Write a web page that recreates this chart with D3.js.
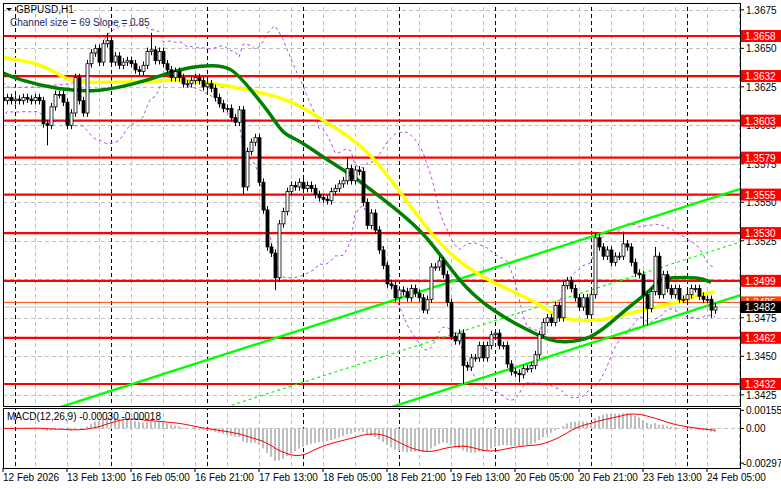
<!DOCTYPE html>
<html><head><meta charset="utf-8">
<script src="https://cdn.jsdelivr.net/npm/d3@7"></script>
<style>body{margin:0;background:#fff}svg{display:block}text{font-family:"Liberation Sans",Arial,sans-serif}</style>
</head><body><svg id="c" width="781" height="489"></svg>
<script>
// closes (price), bar 0 = 12 Feb 2026 21:00, H1
const closes=[3616,3618,3616,3617,3616,3618,3617,3616,3618,3616,3601,3600,3612,3620,3620,3615,3600,3608,3631,3616,
3608,3640,3647,3650,3641,3653,3655,3641,3645,3639,3641,3642,3640,3636,3635,3639,3648,3649,3642,3648,
3640,3636,3631,3635,3631,3627,3627,3629,3631,3629,3625,3627,3624,3618,3614,3611,3611,3605,3602,3610,
3560,3583,3589,3592,3563,3545,3521,3517,3501,3536,3544,3557,3561,3560,3563,3559,3561,3559,3555,3553,
3552,3551,3557,3559,3562,3564,3572,3564,3571,3570,3550,3535,3543,3532,3519,3509,3497,3496,3488,3493,
3492,3488,3494,3491,3488,3480,3487,3508,3508,3512,3503,3485,3463,3460,3465,3444,3443,3449,3449,3457,
3449,3457,3464,3465,3457,3457,3445,3440,3439,3438,3442,3442,3444,3451,3464,3472,3475,3472,3483,3475,
3496,3499,3494,3488,3482,3488,3477,3490,3527,3521,3515,3519,3511,3515,3515,3523,3521,3511,3504,3503,
3490,3481,3492,3515,3490,3503,3494,3490,3494,3487,3487,3490,3494,3494,3489,3487,3487,3480,3482].map(v=>1+v/10000);
const firstOpen=1.3618;
const extremes={11:{l:1.3587},26:{h:1.3660},37:{h:1.3660},60:{l:1.3555},68:{l:1.3493},86:{h:1.35795},105:{l:1.3478},
115:{l:1.3432},129:{l:1.3433},148:{h:1.3530},155:{h:1.3531},163:{h:1.3521},160:{l:1.3470},161:{l:1.3470},177:{l:1.3475}};
const yellowMA=[[0,3644],[9,3640.5],[14,3633],[17,3628],[24,3628],[34,3628],[42,3629.5],[47,3629.5],[62,3623],[72,3616.5],[79,3605],[87,3592],[92,3581],[99,3558],[107,3529],[114,3511],[122,3498],[134,3485],[138,3475],[147,3472],[154,3476],[162,3481.5],[169,3485],[174,3490],[178,3492]];
const greenMA=[[0,3634],[4,3629.5],[14,3623],[24,3621.6],[34,3627.5],[42,3634.6],[47,3638],[52,3639],[57,3638.5],[62,3623],[67,3607],[70,3594],[74,3590.5],[79,3581],[87,3568],[92,3558],[97,3548],[106,3529],[114,3498],[122,3480],[131,3467],[137,3460],[140,3459],[147,3461],[152,3472],[157,3483],[162,3493],[164,3500],[167,3501],[174,3501.6],[177,3498]];
const levels=[1.3658,1.3632,1.3603,1.3579,1.3555,1.3530,1.3499,1.3462,1.3432];
const askLine=1.3485, bidLine=1.3482;
const priceTicks=[1.3675,1.3650,1.3625,1.3600,1.3575,1.3550,1.3525,1.3500,1.3475,1.3450,1.3425];
const timeLabels=[[0,"12 Feb 2026"],[16,"13 Feb 13:00"],[32,"16 Feb 05:00"],[48,"16 Feb 21:00"],[64,"17 Feb 13:00"],[80,"18 Feb 05:00"],[96,"18 Feb 21:00"],[112,"19 Feb 13:00"],[128,"20 Feb 05:00"],[144,"20 Feb 21:00"],[160,"23 Feb 13:00"],[176,"24 Feb 05:00"]];
const daySeps=[3,27,51,75,99,123,147,171];
const channel={i:134.25,upper:1.3517,middle:1.34825,lower:1.3448,slope:0.0000834};
const macdTicks=[0.00155,0,-0.00297];

const svg=d3.select("#c");
const L=3,R=740,T=3,B=406,MT=408,MB=468;
const x=d3.scaleLinear().domain([0,1]).range([3,7]);
const y=d3.scaleLinear().domain([1.3432,1.3658]).range([384,36]);
const ym=d3.scaleLinear().domain([-0.0033,0.00175]).range([467,408]);
const defs=svg.append("defs");
defs.append("clipPath").attr("id","cm").append("rect").attr("x",L).attr("y",T).attr("width",R-L).attr("height",B-T);
defs.append("clipPath").attr("id","cd").append("rect").attr("x",L).attr("y",MT).attr("width",R-L).attr("height",MB-MT);
const g=svg.append("g").attr("clip-path","url(#cm)");
const gm=svg.append("g").attr("clip-path","url(#cd)");
// grid
priceTicks.forEach(p=>g.append("line").attr("x1",L).attr("x2",R).attr("y1",Math.round(y(p))+.5).attr("y2",Math.round(y(p))+.5).attr("stroke","#c0c0c0").attr("stroke-dasharray","4,3"));
for(let i=8;i<185;i+=8){[g,gm].forEach(gg=>gg.append("line").attr("x1",x(i)+.5).attr("x2",x(i)+.5).attr("y1",0).attr("y2",489).attr("stroke","#c0c0c0").attr("stroke-dasharray","4,3"));}
daySeps.forEach(i=>[g,gm].forEach(gg=>gg.append("line").attr("x1",x(i)+.5).attr("x2",x(i)+.5).attr("y1",0).attr("y2",489).attr("stroke","#000").attr("stroke-dasharray","4,3")));
// bollinger
const n=closes.length;
const bbU=[],bbL=[];
for(let i=0;i<n;i++){const w=closes.slice(Math.max(0,i-19),i+1);const m=d3.mean(w);const s=w.length>1?d3.deviation(w)*Math.sqrt((w.length-1)/w.length):0.0006;const sd=Math.max(s,0.0004);bbU.push([i,m+2*sd]);bbL.push([i,m-2*sd]);}
const ln=d3.line().x(d=>x(d[0])).y(d=>y(d[1]));
[bbU,bbL].forEach(b=>g.append("path").attr("d",ln(b)).attr("fill","none").attr("stroke","#b04ae0").attr("stroke-dasharray","3,3"));
// levels
g.append("line").attr("x1",L).attr("x2",R).attr("y1",y(bidLine)).attr("y2",y(bidLine)).attr("stroke","#c0c0c0");
g.append("line").attr("x1",L).attr("x2",R).attr("y1",y(askLine)).attr("y2",y(askLine)).attr("stroke","#ff4500");
levels.forEach(p=>g.append("line").attr("x1",L).attr("x2",R).attr("y1",y(p)).attr("y2",y(p)).attr("stroke","#ff0000").attr("stroke-width",2.2));
// channel
const ch=(base,i)=>base+(i-channel.i)*channel.slope;
[["upper",null],["lower",null],["middle","3,3"]].forEach(([k,da])=>{
 g.append("line").attr("x1",x(0)).attr("x2",x(185)).attr("y1",y(ch(channel[k],0))).attr("y2",y(ch(channel[k],185))).attr("stroke","#00ff00").attr("stroke-width",da?1.2:2.4).attr("stroke-dasharray",da);});
// MAs
const cl=d3.line().x(d=>x(d[0])).y(d=>y(1+d[1]/10000)).curve(d3.curveBasis);
g.append("path").attr("d",cl(yellowMA)).attr("fill","none").attr("stroke","#ffff00").attr("stroke-width",3.5);
g.append("path").attr("d",cl(greenMA)).attr("fill","none").attr("stroke","#008000").attr("stroke-width",3.5);
// candles
closes.forEach((c,i)=>{const o=i?closes[i-1]:firstOpen;const e=extremes[i]||{};
 const h=e.h||Math.max(o,c)+0.00025, l=e.l||Math.min(o,c)-0.00025;
 const cx=Math.round(x(i))+.5;
 g.append("line").attr("x1",cx).attr("x2",cx).attr("y1",y(h)).attr("y2",y(l)).attr("stroke","#000");
 const top=y(Math.max(o,c)),bh=Math.max(1,Math.abs(y(o)-y(c)));
 g.append("rect").attr("x",cx-1.5).attr("y",top).attr("width",3).attr("height",bh).attr("fill",c>=o?"#fff":"#000").attr("stroke","#000").attr("stroke-width",0.8);});
// MACD
function ema(a,p){const k=2/(p+1);const r=[];a.forEach((v,i)=>r.push(i?v*k+r[i-1]*(1-k):v));return r;}
const e12=ema(closes,12),e26=ema(closes,26);const macd=closes.map((c,i)=>e12[i]-e26[i]);
const sig=macd.map((v,i)=>d3.mean(macd.slice(Math.max(0,i-8),i+1)));
gm.append("line").attr("x1",L).attr("x2",R).attr("y1",ym(0)).attr("y2",ym(0)).attr("stroke","#c0c0c0").attr("stroke-dasharray","4,3");
macd.forEach((v,i)=>gm.append("rect").attr("x",Math.round(x(i))-1).attr("width",2).attr("y",Math.min(ym(0),ym(v))).attr("height",Math.abs(ym(v)-ym(0))).attr("fill","#bdbdbd"));
gm.append("path").attr("d",d3.line().x((d,i)=>x(i)).y(d=>ym(d))(sig)).attr("fill","none").attr("stroke","#ff0000");
// frames
svg.append("rect").attr("x",L+.5).attr("y",T+.5).attr("width",R-L).attr("height",B-T).attr("fill","none").attr("stroke","#000");
svg.append("rect").attr("x",L+.5).attr("y",MT+.5).attr("width",R-L).attr("height",MB-MT).attr("fill","none").attr("stroke","#000");
// price axis
priceTicks.forEach(p=>{svg.append("line").attr("x1",R).attr("x2",R+4).attr("y1",y(p)).attr("y2",y(p)).attr("stroke","#000");
 svg.append("text").attr("x",R+6).attr("y",y(p)+4).attr("font-size",10).text(p.toFixed(4));});
function box(p,fill){const yy=y(p);svg.append("rect").attr("x",R+1).attr("y",yy-6).attr("width",40).attr("height",12).attr("fill",fill);
 svg.append("text").attr("x",R+5).attr("y",yy+4).attr("font-size",10).attr("fill","#fff").text(p.toFixed(4));}
levels.forEach(p=>box(p,"#ff0000"));box(askLine,"#ff4500");box(bidLine,"#000");
// macd axis
macdTicks.forEach(v=>{svg.append("line").attr("x1",R).attr("x2",R+4).attr("y1",ym(v)).attr("y2",ym(v)).attr("stroke","#000");
 svg.append("text").attr("x",v<0?R+3:R+6).attr("y",ym(v)+4).attr("font-size",10).text(v===0?"0.00":v.toFixed(5));});
// time axis
timeLabels.forEach(([i,t])=>{svg.append("line").attr("x1",x(i)).attr("x2",x(i)).attr("y1",MB).attr("y2",MB+4).attr("stroke","#000");
 svg.append("text").attr("x",x(i)).attr("y",481).attr("font-size",10).text(t);});
// titles
svg.append("path").attr("d","M6,8 L12,8 L9,11 Z").attr("fill","#000");
svg.append("text").attr("x",16).attr("y",13).attr("font-size",10).text("GBPUSD,H1");
svg.append("text").attr("x",10).attr("y",26).attr("font-size",10).attr("fill","#1a2a5a").text("Channel size = 69 Slope = 0.85");
svg.append("text").attr("x",7).attr("y",420).attr("font-size",10).text("MACD(12,26,9) -0.00030 -0.00018");
</script></body></html>
